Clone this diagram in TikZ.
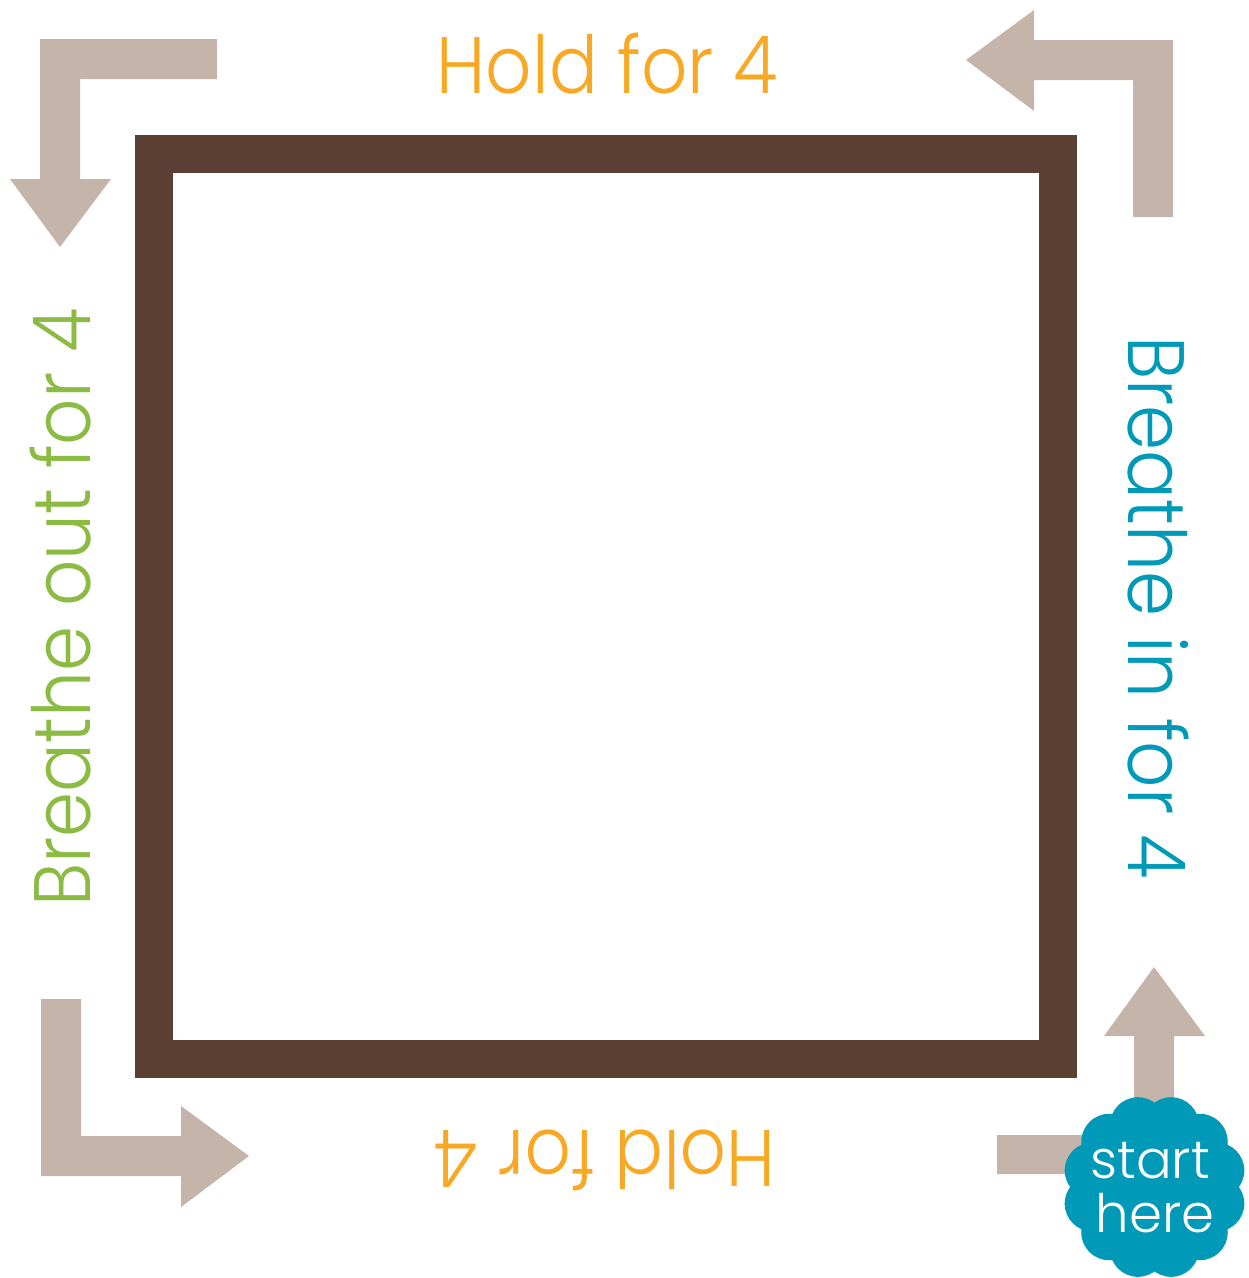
\documentclass[tikz,border=0pt]{standalone}
\usepackage{fontspec}
\setmainfont{Poppins}[UprightFont={* Light}]
\usetikzlibrary{calc}
\definecolor{arrowtan}{HTML}{C4B4AA}
\definecolor{framebrown}{HTML}{5C4034}
\definecolor{holdorange}{HTML}{F8A823}
\definecolor{inteal}{HTML}{0099B8}
\definecolor{outgreen}{HTML}{8BBB42}
\newcommand{\narrowtext}[1]{\scalebox{0.905}[1]{#1}}
\tikzset{
  bentarrow/.style={fill=arrowtan, draw=none},
  label80/.style={inner sep=0pt, anchor=base, font=\fontsize{80}{80}\selectfont},
  badgetext/.style={inner sep=0pt, anchor=base, text=white, font=\fontsize{53}{53}\selectfont}
}
\begin{document}
\begin{tikzpicture}[x=1pt,y=-1pt]
\useasboundingbox (0,0) rectangle (1249,1278);
% frame
\draw[framebrown, line width=38pt] (154,154) rectangle (1058,1059);
% arrows
\fill[bentarrow] (217,39) -- (40,39) -- (40,179) -- (10,179) -- (60,247) -- (111,179) -- (80,179) -- (80,79) -- (217,79) -- cycle;
\fill[bentarrow] (1133,217) -- (1133,80) -- (1034,80) -- (1034,111) -- (966,60) -- (1034,10) -- (1034,40) -- (1173,40) -- (1173,217) -- cycle;
\fill[bentarrow] (41,999) -- (81,999) -- (81,1136) -- (181,1136) -- (181,1106) -- (249,1156) -- (181,1207) -- (181,1176) -- (41,1176) -- cycle;
\fill[bentarrow] (997,1135) -- (1134,1135) -- (1134,1036) -- (1104,1036) -- (1154,967) -- (1205,1036) -- (1174,1036) -- (1174,1174) -- (997,1174) -- cycle;
% labels
\node[label80, text=holdorange] (holdtop) at (607.5,93) {\narrowtext{Hold for 4}};
\node[label80, text=holdorange, rotate=180] (holdbot) at (605,1130) {\narrowtext{Hold for 4}};
\node[label80, text=inteal, rotate=-90] (breathein) at (1128,607.5) {\narrowtext{Breathe in for 4}};
\node[label80, text=outgreen, rotate=90] (breatheout) at (90,607.5) {\narrowtext{Breathe out for 4}};
% badge
\coordinate (badgec) at (1154.5,1187);
\fill[inteal] (badgec) circle (64pt);
\foreach \a in {15,45,...,345} {
  \fill[inteal] ($(badgec)+(\a:64pt)$) circle (28pt);
}
\node[badgetext] (start) at (1150,1178) {start};
\node[badgetext] (here) at (1155,1232) {here};
\end{tikzpicture}
\end{document}
